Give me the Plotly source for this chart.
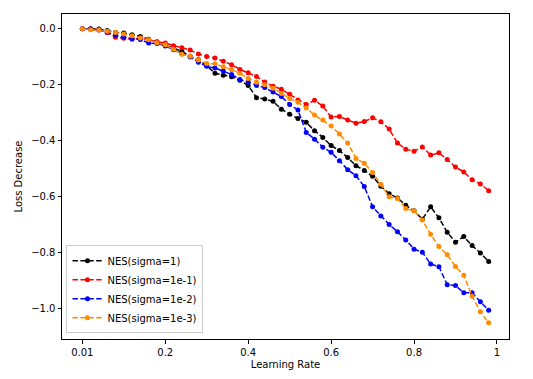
import plotly.graph_objects as go

learning_rate = [round(0.02 * i, 2) for i in range(50)]

nes_sigma_1 = [0.000, 0.000, -0.001, -0.006, -0.013, -0.015, -0.021, -0.027, -0.037, -0.047,
               -0.057, -0.069, -0.080, -0.098, -0.110, -0.131, -0.159, -0.166, -0.171, -0.184,
               -0.202, -0.246, -0.251, -0.259, -0.287, -0.305, -0.320, -0.334, -0.364, -0.388,
               -0.417, -0.435, -0.460, -0.489, -0.506, -0.527, -0.562, -0.589, -0.604, -0.630,
               -0.650, -0.680, -0.636, -0.675, -0.727, -0.762, -0.742, -0.774, -0.801, -0.831]

nes_sigma_1e1 = [0.000, -0.001, -0.003, -0.013, -0.030, -0.034, -0.037, -0.033, -0.040, -0.046,
                 -0.051, -0.060, -0.068, -0.076, -0.090, -0.099, -0.104, -0.116, -0.128, -0.145,
                 -0.157, -0.170, -0.190, -0.205, -0.216, -0.234, -0.254, -0.270, -0.255, -0.276,
                 -0.315, -0.313, -0.326, -0.337, -0.331, -0.318, -0.332, -0.358, -0.408, -0.430,
                 -0.437, -0.422, -0.451, -0.443, -0.467, -0.494, -0.511, -0.539, -0.554, -0.578]

nes_sigma_1e2 = [0.000, -0.001, -0.004, -0.012, -0.023, -0.030, -0.035, -0.038, -0.051, -0.052,
                 -0.061, -0.075, -0.089, -0.101, -0.119, -0.134, -0.140, -0.151, -0.163, -0.181,
                 -0.190, -0.202, -0.210, -0.226, -0.242, -0.270, -0.290, -0.370, -0.394, -0.423,
                 -0.441, -0.471, -0.503, -0.525, -0.563, -0.636, -0.669, -0.699, -0.725, -0.754,
                 -0.787, -0.798, -0.840, -0.850, -0.914, -0.917, -0.943, -0.943, -0.975, -1.005]

nes_sigma_1e3 = [0.000, -0.003, -0.004, -0.009, -0.013, -0.018, -0.025, -0.033, -0.039, -0.050,
                 -0.057, -0.073, -0.091, -0.098, -0.111, -0.124, -0.125, -0.135, -0.146, -0.159,
                 -0.177, -0.191, -0.200, -0.212, -0.231, -0.249, -0.262, -0.283, -0.308, -0.326,
                 -0.347, -0.376, -0.408, -0.463, -0.480, -0.513, -0.555, -0.600, -0.606, -0.642,
                 -0.650, -0.683, -0.734, -0.778, -0.807, -0.849, -0.880, -0.955, -1.011, -1.050]

series_names = ["NES(sigma=1)", "NES(sigma=1e-1)", "NES(sigma=1e-2)", "NES(sigma=1e-3)"]
series_values = [nes_sigma_1, nes_sigma_1e1, nes_sigma_1e2, nes_sigma_1e3]
series_colors = ["black", "red", "blue", "darkorange"]

x_tick_vals = [0, 0.2, 0.4, 0.6, 0.8, 1.0]
x_tick_text = ["0.01", "0.2", "0.4", "0.6", "0.8", "1"]
y_tick_vals = [0.0, -0.2, -0.4, -0.6, -0.8, -1.0]
y_tick_text = ["0.0", "\u22120.2", "\u22120.4", "\u22120.6", "\u22120.8", "\u22121.0"]

fig = go.Figure()
for name, vals, col in zip(series_names, series_values, series_colors):
    fig.add_trace(go.Scatter(
        x=learning_rate, y=vals, name=name, mode="lines+markers",
        line=dict(color=col, width=1.5, dash="5.5px,2.4px"),
        marker=dict(color=col, size=5),
    ))

font = "DejaVu Sans, sans-serif"
fig.update_layout(
    width=533, height=379,
    margin=dict(l=62, r=24, t=14, b=40, autoexpand=False),
    paper_bgcolor="white", plot_bgcolor="white",
    font=dict(family=font, size=10, color="black"),
    showlegend=True,
    legend=dict(
        x=0.01, y=0.018, xanchor="left", yanchor="bottom",
        bgcolor="rgba(255,255,255,0.8)", bordercolor="#cccccc", borderwidth=1,
        font=dict(family=font, size=10, color="black"),
        tracegroupgap=0, itemwidth=30,
    ),
    xaxis=dict(
        range=[-0.049, 1.029], tickvals=x_tick_vals, ticktext=x_tick_text,
        showgrid=False, zeroline=False, showline=True, mirror=True, automargin=False,
        linecolor="black", linewidth=1, ticks="outside", ticklen=3.5, tickwidth=1,
        tickcolor="black",
        title=dict(text="Learning Rate", font=dict(family=font, size=10), standoff=4),
    ),
    yaxis=dict(
        range=[-1.108, 0.053], tickvals=y_tick_vals, ticktext=y_tick_text,
        showgrid=False, zeroline=False, showline=True, mirror=True, automargin=False,
        linecolor="black", linewidth=1, ticks="outside", ticklen=3.5, tickwidth=1,
        tickcolor="black",
        title=dict(text="Loss Decrease", font=dict(family=font, size=10), standoff=6),
    ),
)

fig.write_html("out.html", config={"displayModeBar": False},
               post_script="document.body.style.margin='0';")
